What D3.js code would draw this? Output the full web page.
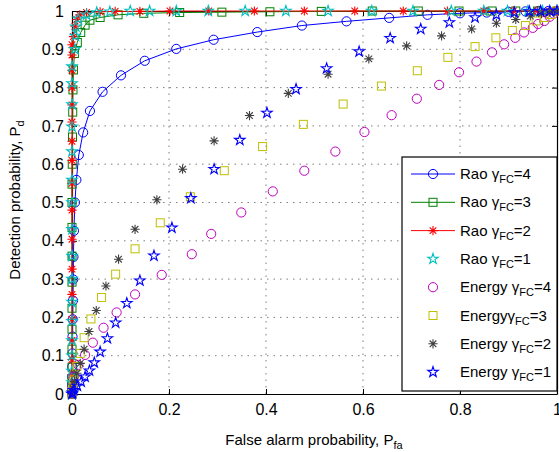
<!DOCTYPE html>
<html><head><meta charset="utf-8">
<script src="https://cdn.jsdelivr.net/npm/d3@7"></script>
<style>
html,body{margin:0;padding:0;background:#fff;}
svg text{font-family:"Liberation Sans",Arial,Helvetica,sans-serif;fill:#000;}
</style></head>
<body>
<svg id="chart" width="559" height="452"></svg>
<script>
// ---------- data ----------
const xTicks = [0, 0.2, 0.4, 0.6, 0.8, 1];
const yTicks = [0, 0.1, 0.2, 0.3, 0.4, 0.5, 0.6, 0.7, 0.8, 0.9, 1];
const xTickLabels = ["0", "0.2", "0.4", "0.6", "0.8", "1"];
const yTickLabels = ["0", "0.1", "0.2", "0.3", "0.4", "0.5", "0.6", "0.7", "0.8", "0.9", "1"];

// Rao, gamma_FC = 4
const raoX4 = [0, 0.0001, 0.0002, 0.0003, 0.0005, 0.0008, 0.001, 0.0015, 0.002, 0.0025, 0.003, 0.004, 0.006, 0.009, 0.014, 0.023, 0.037, 0.063, 0.101, 0.150, 0.215, 0.292, 0.382, 0.474, 0.566, 0.654, 0.733, 0.800, 0.855, 0.900, 0.935, 0.962, 0.982, 1];
const raoY4 = [0, 0.01, 0.025, 0.045, 0.071, 0.106, 0.150, 0.195, 0.244, 0.299, 0.358, 0.426, 0.50, 0.559, 0.624, 0.683, 0.739, 0.789, 0.832, 0.870, 0.901, 0.925, 0.945, 0.962, 0.973, 0.982, 0.990, 0.994, 0.996, 0.998, 0.999, 1, 1, 1];
// Rao, gamma_FC = 3
const raoX3 = [0, 0, 0, 0, 0, 0, 0, 0, 0, 0, 0, 0, 0.0005, 0.001, 0.0015, 0.002, 0.003, 0.005, 0.011, 0.018, 0.027, 0.037, 0.058, 0.095, 0.148, 0.222, 0.309, 0.408, 0.514, 0.619, 0.714, 0.798, 0.866, 0.915, 0.96, 1];
const raoY3 = [0, 0.015, 0.04, 0.07, 0.117, 0.169, 0.224, 0.292, 0.36, 0.435, 0.50, 0.548, 0.60, 0.671, 0.736, 0.794, 0.846, 0.889, 0.918, 0.944, 0.963, 0.976, 0.983, 0.990, 0.994, 0.996, 0.997, 0.998, 0.999, 1, 1, 1, 1, 1, 1, 1];
// Rao, gamma_FC = 2
const raoX2 = [0, 0, 0, 0, 0, 0, 0, 0, 0, 0, 0, 0, 0, 0, 0, 0, 0, 0, 0, 0.003, 0.006, 0.01, 0.016, 0.03, 0.058, 0.089, 0.14, 0.202, 0.282, 0.376, 0.479, 0.583, 0.683, 0.774, 0.849, 0.91, 0.96, 0.985, 1];
const raoY2 = [0, 0.02, 0.05, 0.09, 0.14, 0.195, 0.26, 0.326, 0.404, 0.48, 0.55, 0.61, 0.66, 0.71, 0.755, 0.80, 0.845, 0.885, 0.912, 0.933, 0.96, 0.978, 0.99, 0.996, 0.998, 0.999, 0.999, 1, 1, 1, 1, 1, 1, 1, 1, 1, 1, 1, 1];
// Rao, gamma_FC = 1
const raoX1 = [0, 0, 0, 0, 0, 0, 0, 0, 0, 0, 0, 0, 0, 0, 0, 0, 0, 0.006, 0.007, 0.008, 0.013, 0.03, 0.051, 0.078, 0.12, 0.16, 0.215, 0.281, 0.357, 0.441, 0.528, 0.618, 0.703, 0.782, 0.849, 0.898, 0.94, 0.97, 1];
const raoY1 = [0, 0.03, 0.06, 0.1, 0.14, 0.19, 0.24, 0.3, 0.36, 0.43, 0.5, 0.559, 0.633, 0.698, 0.756, 0.811, 0.855, 0.9, 0.935, 0.959, 0.98, 0.99, 0.996, 0.998, 1, 1, 1, 1, 1, 1, 1, 1, 1, 1, 1, 1, 1, 1, 1];
// Energy, gamma_FC = 4
const enX4 = [0, 0.001, 0.004, 0.013, 0.027, 0.043, 0.065, 0.092, 0.130, 0.185, 0.247, 0.287, 0.349, 0.414, 0.479, 0.543, 0.603, 0.659, 0.711, 0.757, 0.798, 0.834, 0.866, 0.891, 0.914, 0.932, 0.950, 0.961, 0.974, 0.985, 0.993, 1];
const enY4 = [0, 0.015, 0.045, 0.076, 0.102, 0.134, 0.173, 0.213, 0.260, 0.311, 0.365, 0.418, 0.474, 0.529, 0.583, 0.633, 0.684, 0.728, 0.771, 0.807, 0.840, 0.868, 0.892, 0.913, 0.930, 0.944, 0.956, 0.966, 0.974, 0.985, 0.993, 1];
// Energy, gamma_FC = 3
const enX3 = [0, 0.001, 0.004, 0.010, 0.017, 0.025, 0.039, 0.061, 0.090, 0.130, 0.182, 0.244, 0.314, 0.393, 0.477, 0.559, 0.638, 0.712, 0.775, 0.831, 0.874, 0.908, 0.935, 0.957, 0.974, 0.987, 1];
const enY3 = [0, 0.012, 0.037, 0.072, 0.106, 0.147, 0.196, 0.252, 0.313, 0.379, 0.447, 0.515, 0.583, 0.646, 0.704, 0.757, 0.804, 0.844, 0.879, 0.907, 0.930, 0.949, 0.962, 0.974, 0.983, 0.991, 1];
// Energy, gamma_FC = 2
const enX2 = [0, 0.002, 0.005, 0.010, 0.017, 0.025, 0.035, 0.050, 0.070, 0.096, 0.130, 0.175, 0.228, 0.293, 0.366, 0.446, 0.528, 0.612, 0.690, 0.762, 0.824, 0.875, 0.915, 0.945, 0.968, 0.985, 1];
const enY2 = [0, 0.015, 0.033, 0.054, 0.080, 0.117, 0.163, 0.218, 0.282, 0.352, 0.430, 0.507, 0.587, 0.661, 0.727, 0.785, 0.835, 0.875, 0.909, 0.935, 0.953, 0.968, 0.978, 0.987, 0.993, 0.997, 1];
// Energy, gamma_FC = 1
const enX1 = [0, 0.001, 0.004, 0.011, 0.019, 0.027, 0.036, 0.046, 0.058, 0.073, 0.090, 0.113, 0.140, 0.169, 0.206, 0.245, 0.293, 0.346, 0.402, 0.462, 0.525, 0.592, 0.656, 0.719, 0.778, 0.831, 0.875, 0.912, 0.943, 0.966, 0.985, 1];
const enY1 = [0, 0.003, 0.010, 0.021, 0.032, 0.045, 0.061, 0.082, 0.110, 0.145, 0.186, 0.237, 0.296, 0.361, 0.434, 0.511, 0.587, 0.663, 0.734, 0.796, 0.850, 0.894, 0.929, 0.953, 0.970, 0.983, 0.990, 0.996, 0.999, 1, 1, 1];

const seriesNames = ["Rao γ|FC|=4", "Rao γ|FC|=3", "Rao γ|FC|=2", "Rao γ|FC|=1",
                     "Energy γ|FC|=4", "Energyγ|FC|=3", "Energy γ|FC|=2", "Energy γ|FC|=1"];

// ---------- styling / assembly ----------
const series = [
  {x: raoX4, y: raoY4, color: "#0000ff", marker: "circle", line: true},
  {x: raoX3, y: raoY3, color: "#008000", marker: "square", line: true},
  {x: raoX2, y: raoY2, color: "#ff0000", marker: "asterisk", line: true},
  {x: raoX1, y: raoY1, color: "#00bfbf", marker: "star", line: false},
  {x: enX4, y: enY4, color: "#bf00bf", marker: "circle", line: false},
  {x: enX3, y: enY3, color: "#bfbf00", marker: "square", line: false},
  {x: enX2, y: enY2, color: "#404040", marker: "asterisk", line: false},
  {x: enX1, y: enY1, color: "#0000ff", marker: "star", line: false}
].map((s, i) => Object.assign(s, {name: seriesNames[i]}));

const svg = d3.select("#chart");
const L = 72, R = 557, T = 11, B = 394;
const x = d3.scaleLinear().domain([0, 1]).range([L, R]);
const y = d3.scaleLinear().domain([0, 1]).range([B, T]);

// grid
const grid = svg.append("g");
grid.selectAll("line.gx").data(xTicks.slice(1, -1)).enter().append("line")
  .attr("x1", d => x(d)).attr("x2", d => x(d)).attr("y1", B).attr("y2", T)
  .attr("stroke", "#555").attr("stroke-width", 1).attr("stroke-dasharray", "1.5,5").attr("opacity", 0.75);
grid.selectAll("line.gy").data(yTicks.slice(1, -1)).enter().append("line")
  .attr("y1", d => y(d)).attr("y2", d => y(d)).attr("x1", L).attr("x2", R)
  .attr("stroke", "#555").attr("stroke-width", 1).attr("stroke-dasharray", "1.5,5").attr("opacity", 0.75);

// axes (ticks inside)
const fmtX = (d, i) => xTickLabels[i];
const fmtY = (d, i) => yTickLabels[i];
const axB = svg.append("g").attr("transform", `translate(0,${B})`)
  .call(d3.axisBottom(x).tickValues(xTicks).tickFormat(fmtX).tickSizeInner(-5).tickSizeOuter(0).tickPadding(10));
const axT = svg.append("g").attr("transform", `translate(0,${T})`)
  .call(d3.axisTop(x).tickValues(xTicks).tickFormat("").tickSizeInner(-5).tickSizeOuter(0));
const axL = svg.append("g").attr("transform", `translate(${L},0)`)
  .call(d3.axisLeft(y).tickValues(yTicks).tickFormat(fmtY).tickSizeInner(-5).tickSizeOuter(0).tickPadding(8));
const axR = svg.append("g").attr("transform", `translate(${R},0)`)
  .call(d3.axisRight(y).tickValues(yTicks).tickFormat("").tickSizeInner(-5).tickSizeOuter(0));
[axB, axT, axL, axR].forEach(a => {
  a.select(".domain").attr("stroke", "#000").attr("stroke-width", 1.2);
  a.selectAll(".tick line").attr("stroke", "#000");
  a.selectAll("text").style("font-size", "16px").attr("fill", "#000");
});
axB.selectAll("text").attr("dy", "0.71em");

// markers
const starPath = d3.symbol().type(d3.symbolStar).size(34)();
function drawMarker(g, type, color, cx, cy) {
  if (type === "circle") {
    g.append("circle").attr("cx", cx).attr("cy", cy).attr("r", 4.6)
      .attr("fill", "none").attr("stroke", color).attr("stroke-width", 1);
  } else if (type === "square") {
    g.append("rect").attr("x", cx - 4).attr("y", cy - 4).attr("width", 8).attr("height", 8)
      .attr("fill", "none").attr("stroke", color).attr("stroke-width", 1);
  } else if (type === "star") {
    g.append("path").attr("d", starPath).attr("transform", `translate(${cx},${cy})`)
      .attr("fill", "none").attr("stroke", color).attr("stroke-width", 1.1);
  } else if (type === "asterisk") {
    const r = 4.6, d = r * 0.72;
    g.append("path")
      .attr("d", `M${cx - r},${cy}H${cx + r}M${cx},${cy - r}V${cy + r}M${cx - d},${cy - d}L${cx + d},${cy + d}M${cx - d},${cy + d}L${cx + d},${cy - d}`)
      .attr("fill", "none").attr("stroke", color).attr("stroke-width", 1.1);
  }
}

const plot = svg.append("g");
const lineGen = d3.line().x(d => x(d[0])).y(d => y(d[1]));
series.forEach(s => {
  const pts = s.x.map((v, i) => [v, s.y[i]]);
  const g = plot.append("g");
  if (s.line) {
    g.append("path").datum(pts).attr("d", lineGen)
      .attr("fill", "none").attr("stroke", s.color).attr("stroke-width", 1);
  }
  pts.forEach(p => drawMarker(g, s.marker, s.color, x(p[0]), y(p[1])));
});

// legend
const lg = svg.append("g");
const lgX0 = 402, lgY0 = 157, lgW = R - lgX0, lgH = 234;
lg.append("rect").attr("x", lgX0).attr("y", lgY0).attr("width", lgW).attr("height", lgH)
  .attr("fill", "#fff").attr("stroke", "#000").attr("stroke-width", 1.2);
series.forEach((s, i) => {
  const ry = 174 + i * 28.3;
  const g = lg.append("g");
  if (s.line) {
    g.append("line").attr("x1", 411).attr("x2", 455).attr("y1", ry).attr("y2", ry)
      .attr("stroke", s.color).attr("stroke-width", 1);
  }
  drawMarker(g, s.marker, s.color, 433, ry);
  const parts = s.name.split("|");
  const t = g.append("text").attr("x", 460).attr("y", ry + 5).style("font-size", "15px");
  t.append("tspan").text(parts[0]);
  t.append("tspan").attr("dy", 4).style("font-size", "11px").text(parts[1]);
  t.append("tspan").attr("dy", -4).text(parts[2]);
});

// axis labels
const xl = svg.append("text").attr("x", 314).attr("y", 445).attr("text-anchor", "middle").style("font-size", "15px");
xl.append("tspan").text("False alarm probability, P");
xl.append("tspan").attr("dy", 4).style("font-size", "11px").text("fa");

const yl = svg.append("text").attr("transform", "translate(20,200) rotate(-90)")
  .attr("text-anchor", "middle").style("font-size", "15px");
yl.append("tspan").text("Detection probability, P");
yl.append("tspan").attr("dy", 4).style("font-size", "11px").text("d");
</script>
</body></html>
